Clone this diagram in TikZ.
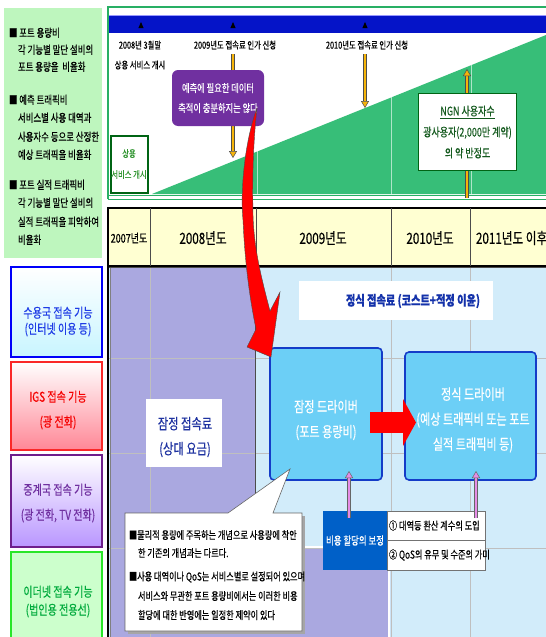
\documentclass[tikz,border=0pt]{standalone}
\usepackage{fontspec}
\newfontfamily\kr[FakeStretch=0.75,FakeBold=0.4]{Noto Sans CJK KR}
\usetikzlibrary{arrows.meta}
\definecolor{infogreen}{RGB}{190,246,190}
\definecolor{tlgreen}{RGB}{40,175,100}
\definecolor{barblue}{RGB}{5,20,200}
\definecolor{rampgreen}{RGB}{55,190,120}
\definecolor{amber}{RGB}{245,180,10}
\definecolor{purp}{RGB}{112,48,160}
\definecolor{dkgreen}{RGB}{0,100,20}
\definecolor{ngntext}{RGB}{20,90,30}
\definecolor{sytext}{RGB}{50,150,50}
\definecolor{hdr}{RGB}{255,255,210}
\definecolor{ltblue}{RGB}{210,236,250}
\definecolor{lav}{RGB}{170,168,224}
\definecolor{navytxt}{RGB}{20,50,170}
\definecolor{jtxt}{RGB}{30,50,160}
\definecolor{drvfill}{RGB}{108,207,246}
\definecolor{drvline}{RGB}{20,60,200}
\definecolor{cblue}{RGB}{0,96,200}
\definecolor{pinkarr}{RGB}{230,140,230}
\definecolor{laba}{RGB}{0,0,250}
\definecolor{labafill}{RGB}{200,245,255}
\definecolor{labatxt}{RGB}{30,60,230}
\definecolor{labb}{RGB}{250,40,40}
\definecolor{labbfill}{RGB}{255,135,150}
\definecolor{labbtxt}{RGB}{245,0,0}
\definecolor{labc}{RGB}{110,30,140}
\definecolor{labcfill}{RGB}{185,150,255}
\definecolor{labctxt}{RGB}{112,48,160}
\definecolor{labd}{RGB}{40,230,40}
\definecolor{labdfill}{RGB}{204,255,204}
\definecolor{labdtxt}{RGB}{0,170,60}
\begin{document}
\begin{tikzpicture}[x=1pt,y=-1pt,
  every node/.style={inner sep=0pt, outer sep=0pt},
  tf/.style 2 args={font=\kr\fontsize{#1}{#2}\selectfont},
  oarr/.style={draw=black!70, line width=0.5pt, double=amber, double distance=2.6pt,
     -{Triangle[length=7pt,width=8pt,fill=amber,line width=0.5pt]}},
  parr/.style={draw=black!60, line width=0.5pt, double=pinkarr, double distance=2.4pt,
     -{Triangle[length=7pt,width=8pt,fill=pinkarr,line width=0.5pt]}},
  labbox/.style={line width=1.8pt, minimum width=91pt},
  drv/.style={fill=drvfill, draw=drvline, line width=1.6pt, rounded corners=4pt},
  drvt/.style={text=white, tf={14.8}{25}, align=center},
  cell/.style={fill=white, draw=black!55, line width=0.6pt, minimum width=98pt,
     minimum height=29.5pt, anchor=north west},
  ctxt/.style={tf={10.9}{12}, anchor=west},
  cl/.style={tf={10.9}{12}, anchor=west},
  gl/.style={tf={11.2}{12}, anchor=base west}]
\useasboundingbox (0,0) rectangle (546,637);
\fill[white] (0,0) rectangle (546,637);

% ---------- left info box ----------
\node[fill=infogreen, minimum width=98pt, minimum height=250pt, anchor=north west] (info) at (4,8) {};
\node[gl] (g1a) at (9,37) {■ 포트 용량비};
\node[gl] (g1b) at (18,54) {각 기능별 말단 설비의};
\node[gl] (g1c) at (18,71) {포트 용량을\, 비율화};
\node[gl] (g2a) at (9,104) {■ 예측 트래픽비};
\node[gl] (g2b) at (18,122) {서비스별 사용 대역과};
\node[gl] (g2c) at (18,141) {사용자수 등으로 산정한};
\node[gl] (g2d) at (18,159) {예상 트래픽을 비율화};
\node[gl] (g3a) at (9,189) {■ 포트 실적 트래픽비};
\node[gl] (g3b) at (18,207) {각 기능별 말단 설비의};
\node[gl] (g3c) at (18,226) {실적 트래픽을 피악하여};
\node[gl] (g3d) at (18,244) {비율화};

% ---------- timeline panel ----------
\draw[tlgreen, line width=1.2pt] (108,199) -- (108,7) -- (546,7);
\fill[barblue] (109,15) rectangle (546,33);
\draw[blue!40, line width=0.6pt] (109,15.5) -- (546,15.5);
\fill[rampgreen] (152,194) -- (546,35) -- (546,194) -- cycle;
\draw[white, opacity=0.6, line width=0.6pt] (257,151) -- (257,194) (391,97.2) -- (391,194) (471,65) -- (471,194);
\draw[tlgreen, line width=1pt] (108,195) -- (546,195) (108,199) -- (546,199);
\foreach \mx in {141,233,365} \fill (\mx,22) -- (\mx-2.6,28) -- (\mx+2.6,28) -- cycle;

\node[tf={9.8}{20}, align=center] (m1) at (140,55) {2008년 3월말\\상용 서비스 개시};
\node[tf={9.8}{12}] (m2) at (235,45) {2009년도 접속료 인가 신청};
\node[tf={9.8}{12}] (m3) at (367,45) {2010년도 접속료 인가 신청};

\coordinate (o1s) at (233,54); \coordinate (o1e) at (233,158);
\coordinate (o2s) at (365,54); \coordinate (o2e) at (365,108);
\coordinate (o3s) at (467,198); \coordinate (o3e) at (467,69);
\draw[oarr] (o1s) -- (o1e);
\draw[oarr] (o2s) -- (o2e);
\draw[oarr] (o3s) -- (o3e);

\node[fill=white, draw=dkgreen, line width=2pt, minimum width=37pt, minimum height=57pt,
  text=sytext, tf={9.8}{21}, align=center] (sy) at (129,164) {상용\\서비스 개시};
\node[fill=purp, rounded corners=6pt, minimum width=92pt, minimum height=56pt, text=white,
  tf={11}{20}, align=center] (pb) at (218,98) {예측에 필요한 데이터\\축적이 충분하지는 않다};
\node[fill=white, draw=dkgreen, line width=1.8pt, minimum width=98pt, minimum height=77pt,
  text=ngntext, tf={12}{21}, align=center] (ngn) at (467.5,132) {\underline{NGN 사용자수}\\광사용자(2,000만 계약)\\의 약 반정도};

% ---------- lower panel ----------
\fill[ltblue] (108,266) rectangle (546,637);
\fill[lav] (110,268) -- (255,268) -- (255,547) -- (390,547) -- (390,637) -- (110,637) -- cycle;
\draw[black!25, line width=0.5pt] (108,358) -- (546,358) (108,453) -- (546,453) (108,548) -- (546,548)
   (150,266) -- (150,637) (391,266) -- (391,637) (470,266) -- (470,637);
\draw[black!70, line width=0.8pt] (255,268) -- (255,547);
\draw[black!55, line width=0.5pt, double=white, double distance=1.2pt] (255,547) -- (323,547);
\draw[black!55, line width=0.5pt, double=white, double distance=1.2pt] (389,570) -- (389,637);
\draw[black!50, line width=0.5pt] (110.5,268) -- (110.5,637);
\draw[black!70, line width=0.8pt] (108,267) -- (546,267);

% ---------- year header ----------
\filldraw[fill=hdr, draw=black, line width=1.4pt] (108,208) rectangle (560,266);
\draw[black!70, line width=0.6pt] (150,208) -- (150,266) (256,208) -- (256,266) (391,208) -- (391,266) (470,208) -- (470,266);
\draw[black, line width=1.4pt] (108,208) -- (108,637);
\node[tf={12}{13}] (y07) at (129,238) {2007년도};
\node[tf={15.5}{16}] (y08) at (203,238) {2008년도};
\node[tf={15.5}{16}] (y09) at (323,238) {2009년도};
\node[tf={15.5}{16}] (y10) at (430,238) {2010년도};
\node[tf={15.5}{16}, anchor=west] (y11) at (476,238) {2011년도 이후};

% ---------- labels in lower panel ----------
\node[fill=white, minimum width=194pt, minimum height=39pt] (fbox) at (396,300.5) {};
\node[tf={13.6}{15}, text=navytxt] (ftxt) at (413,301) {\bfseries 정식 접속료 (코스트+적정 이윤)};
\node[fill=white, minimum width=76pt, minimum height=68pt] (jbox) at (184,433) {};
\node[tf={15}{25}, text=jtxt, align=center] (jtx) at (185,437) {잠정 접속료\\(상대 요금)};

\node[drv, minimum width=112pt, minimum height=132pt] (d1) at (326,414) {};
\node[drvt] (d1t) at (326,420) {잠정 드라이버\\(포트 용량비)};
\node[drv, minimum width=131pt, minimum height=128pt] (d2) at (470.5,416) {};
\node[drvt] (d2t) at (473,420) {정식 드라이버\\(예상 트래픽비 또는 포트\\실적 트래픽비 등)};

\coordinate (ra) at (370,422.5); \coordinate (rb) at (416,422.5);
\draw[red, line width=21pt, -{Triangle[length=13pt,width=47pt,line width=0pt]}] (ra) -- (rb);

\node[fill=cblue, minimum width=64pt, minimum height=59pt, text=white, tf={11.2}{13}] (cb) at (355,540.5) {비용 할당의 보정};
\node[cell] (c1) at (387,511) {};
\node[cell] (c2) at (387,540.5) {};
\node[ctxt] (c1t) at (389,525.5) {① 대역등 환산 계수의 도입};
\node[ctxt] (c2t) at (389,555) {② QoS의 유무 및 수준의 가미};

\coordinate (p1s) at (349,518); \coordinate (p1e) at (349,471);
\coordinate (p2s) at (476,518); \coordinate (p2e) at (476,471);
\draw[parr] (p1s) -- (p1e);
\draw[parr] (p2s) -- (p2e);

% callout
\fill[black!35] (128,516) rectangle (305,634);
\filldraw[fill=white, draw=black!60, line width=0.6pt] (125,513) -- (228,513) -- (290,469) -- (273,513) -- (302,513) -- (302,631) -- (125,631) -- cycle;
\node[cl] (k1) at (129,535) {■물리적 용량에 주목하는 개념으로 사용량에 착안};
\node[cl] (k2) at (138,553) {한 기존의 개념과는 다르다.};
\node[cl] (k3) at (129,577) {■사용 대역이나 QoS는 서비스별로 설정되어 있으며};
\node[cl] (k4) at (138,596) {서비스와 무관한 포트 용량비에서는 이러한 비용};
\node[cl] (k5) at (138,615) {할당에 대한 반영에는 일정한 제약이 있다};

% ---------- left function labels ----------
\node[labbox, draw=laba, top color=white, bottom color=labafill, minimum height=90pt] (L1) at (56.5,312) {};
\node[tf={13.4}{16}, text=labatxt, align=center] (L1t) at (58,321.5) {수용국 접속 기능\\(인터넷 이용 등)};
\node[labbox, draw=labb, top color=white, bottom color=labbfill, minimum height=88pt] (L2) at (56.5,406) {};
\node[tf={13.4}{25}, text=labbtxt, align=center] (L2t) at (58,410) {IGS 접속 기능\\(광 전화)};
\node[labbox, draw=labc, top color=white, bottom color=labcfill, minimum height=92pt] (L3) at (56.5,501) {};
\node[tf={13.4}{25}, text=labctxt, align=center] (L3t) at (58,503) {중계국 접속 기능\\(광 전화, TV 전화)};
\node[labbox, draw=labd, fill=labdfill, minimum height=90pt] (L4) at (56.5,597) {};
\node[tf={13.4}{18}, text=labdtxt, align=center] (L4t) at (58,601.5) {이더넷 접속 기능\\(법인용 전용선)};

% ---------- big curved red arrow ----------
\filldraw[fill=red, draw=black!70, line width=0.4pt]
  (257,108) .. controls (245,140) and (240,190) .. (243,220)
  .. controls (245,265) and (250,300) .. (256,329)
  -- (247,347) -- (271,357) -- (280,292) -- (270,311)
  .. controls (262,280) and (254,250) .. (253,215)
  .. controls (252,170) and (254,135) .. (257,108) -- cycle;
\end{tikzpicture}
\end{document}
